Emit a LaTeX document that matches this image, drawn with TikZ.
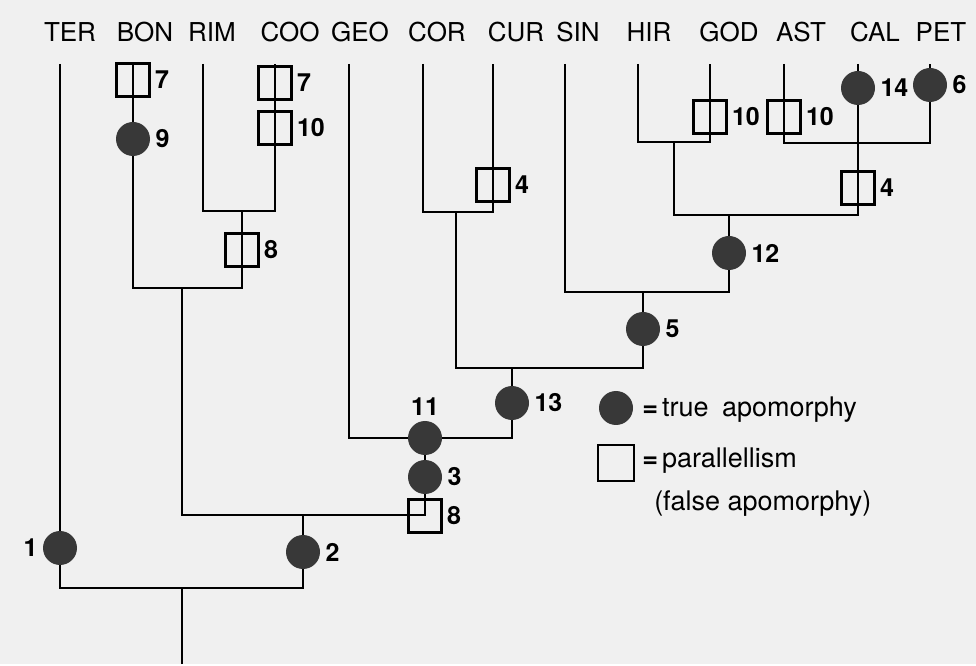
\documentclass[tikz,border=0pt]{standalone}
\usepackage{fontspec}
\setmainfont{TeX Gyre Heros}
\usetikzlibrary{positioning}
\begin{document}
\begin{tikzpicture}[x=0.5pt,y=-0.5pt,line width=1.25pt,
    taxon/.style={font=\fontsize{13}{15}\selectfont},
    apo/.style={circle, fill=black!78, minimum size=17pt, inner sep=0pt},
    par/.style={rectangle, draw, minimum size=16.5pt, inner sep=0pt},
    num/.style={font=\bfseries\fontsize{12.5}{14}\selectfont, inner sep=1.5pt},
    keytext/.style={font=\fontsize{13.5}{15}\selectfont, anchor=west, inner sep=0pt},
    every label/.style={num}]
    \fill[black!6] (0,0) rectangle (976,664);
    % taxa along the top
    \foreach \name/\xl/\xt in {TER/70/60, BON/145/133, RIM/212/203, COO/290/275,
        GEO/360/349, COR/437/423, CUR/516/493, SIN/578/565, HIR/649/638,
        GOD/729/710, AST/801/784, CAL/875/858, PET/941/930}{
        \node[taxon] (\name) at (\xl,32) {\name};
        \coordinate (t\name) at (\xt,64);
    }
    % junctions
    \coordinate (base) at (182,664);
    \coordinate (jroot) at (182,588);
    \coordinate (j2) at (303,515);
    \coordinate (jBRC) at (182,288);
    \coordinate (jRC) at (242,211);
    \coordinate (j11) at (425,438);
    \coordinate (j13) at (512,368);
    \coordinate (jCC) at (456,212);
    \coordinate (j5) at (643,292);
    \coordinate (j12) at (729,215);
    \coordinate (jHG) at (674,142);
    \coordinate (jACP) at (858,143);
    % branches
    \draw (base) -- (jroot);
    \draw (tTER) |- (jroot) -| (j2);
    \draw (jBRC) |- (j2) -| (j11);
    \draw (tBON) |- (jBRC) -| (jRC);
    \draw (tRIM) |- (jRC) -| (tCOO);
    \draw (tGEO) |- (j11) -| (j13);
    \draw (jCC) |- (j13) -| (j5);
    \draw (tCOR) |- (jCC) -| (tCUR);
    \draw (tSIN) |- (j5) -| (j12);
    \draw (jHG) |- (j12) -| (jACP);
    \draw (tHIR) |- (jHG) -| (tGOD);
    \draw (tAST) |- (jACP) -| (tPET);
    \draw (tCAL) -- (jACP);
    % characters
    \node[par, label=right:7] (p7a) at (133,80) {};
    \node[apo, label=right:9] (a9) at (133,139) {};
    \node[par, label=right:7] (p7b) at (275,83) {};
    \node[par, label=right:10] (p10a) at (275,128) {};
    \node[par, label=right:8] (p8a) at (242,250) {};
    \node[apo, label=left:1] (a1) at (60,548) {};
    \node[apo, label=right:2] (a2) at (303,552) {};
    \node[par, label=right:8] (p8b) at (425,516) {};
    \node[apo, label=right:3] (a3) at (425,477) {};
    \node[apo, label=above:11] (a11) at (425,438) {};
    \node[apo, label=right:13] (a13) at (512,403) {};
    \node[par, label=right:4] (p4a) at (493,185) {};
    \node[apo, label=right:5] (a5) at (643,329) {};
    \node[apo, label=right:12] (a12) at (729,253) {};
    \node[par, label=right:10] (p10b) at (710,117) {};
    \node[par, label=right:10] (p10c) at (784,117) {};
    \node[apo, label=right:14] (a14) at (858,88) {};
    \node[apo, label=right:6] (a6) at (930,85) {};
    \node[par, label=right:4] (p4b) at (858,188) {};
    % key
    \node[apo] (keyapo) at (616,408) {};
    \node[keytext] (keyapotext) at (641,410) {{\bfseries =}\hspace{2pt}true\enspace apomorphy};
    \node[par, minimum size=18pt] (keypar) at (616,463) {};
    \node[keytext] (keypartext) at (641,461) {{\bfseries =}\hspace{2pt}parallellism};
    \node[keytext, below right=7pt and 6pt of keypartext.south west, anchor=north west] (keyfalse) {(false apomorphy)};
\end{tikzpicture}
\end{document}
